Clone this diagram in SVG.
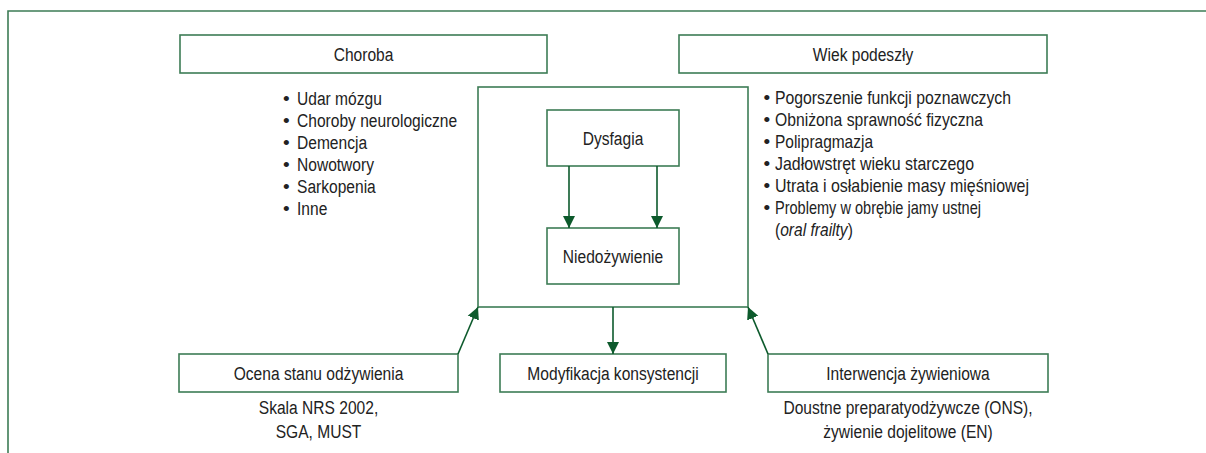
<svg xmlns="http://www.w3.org/2000/svg" width="1206" height="453" viewBox="0 0 1206 453">
<style>
.box{fill:#fff;stroke:#3d7c55;stroke-width:1.6}
.t{font-family:"Liberation Sans",Arial,sans-serif;font-size:19px;fill:#222}
.c{text-anchor:middle}
.con{stroke:#0d5a2c;stroke-width:1.6;fill:none}
</style>
<defs>
<marker id="ah" markerUnits="userSpaceOnUse" markerWidth="12" markerHeight="14" viewBox="0 0 12 14" refX="12" refY="7" orient="auto">
<path d="M0,1 L12,7 L0,13 Z" fill="#0d5a2c"/>
</marker>
</defs>
<g id="frame">
<path d="M8,453 V11 H1206" fill="none" stroke="#3d7c55" stroke-width="1.6"/>
</g>
<g id="choroba">
<rect class="box" x="180" y="35" width="367" height="38"/>
<text class="t c" transform="translate(363.5,61) scale(0.82,1)">Choroba</text>
<g class="t">
<text x="283" y="105">•</text>
<text x="283" y="127">•</text>
<text x="283" y="149">•</text>
<text x="283" y="171">•</text>
<text x="283" y="193">•</text>
<text x="283" y="215">•</text>
</g>
<g transform="translate(297,0) scale(0.82,1)" class="t">
<text x="0" y="105">Udar mózgu</text>
<text x="0" y="127">Choroby neurologiczne</text>
<text x="0" y="149">Demencja</text>
<text x="0" y="171">Nowotwory</text>
<text x="0" y="193">Sarkopenia</text>
<text x="0" y="215">Inne</text>
</g>
</g>
<g id="wiek">
<rect class="box" x="679" y="35" width="368" height="38"/>
<text class="t c" transform="translate(863,61) scale(0.82,1)">Wiek podeszły</text>
<g class="t">
<text x="763.5" y="104">•</text>
<text x="763.5" y="126">•</text>
<text x="763.5" y="148">•</text>
<text x="763.5" y="170">•</text>
<text x="763.5" y="192">•</text>
<text x="763.5" y="214">•</text>
</g>
<g class="t">
<text x="775" y="104" textLength="236" lengthAdjust="spacingAndGlyphs">Pogorszenie funkcji poznawczych</text>
<text x="775" y="126" textLength="208" lengthAdjust="spacingAndGlyphs">Obniżona sprawność fizyczna</text>
<text x="775" y="148" textLength="98" lengthAdjust="spacingAndGlyphs">Polipragmazja</text>
<text x="775" y="170" textLength="199" lengthAdjust="spacingAndGlyphs">Jadłowstręt wieku starczego</text>
<text x="775" y="192" textLength="254" lengthAdjust="spacingAndGlyphs">Utrata i osłabienie masy mięśniowej</text>
<text x="775" y="214" textLength="206" lengthAdjust="spacingAndGlyphs">Problemy w obrębie jamy ustnej</text>
</g>
<text class="t" transform="translate(775,236) scale(0.82,1)">(<tspan font-style="italic">oral frailty</tspan>)</text>
</g>
<g id="central">
<rect class="box" x="478" y="87" width="270" height="220"/>
</g>
<g id="dysfagia">
<rect class="box" x="547" y="110" width="132" height="56"/>
<text class="t c" transform="translate(613,145) scale(0.82,1)">Dysfagia</text>
</g>
<g id="niedozywienie">
<rect class="box" x="547" y="228" width="132" height="56"/>
<text class="t c" transform="translate(613,263) scale(0.82,1)">Niedożywienie</text>
</g>
<g id="ocena">
<rect class="box" x="179" y="354" width="279" height="38"/>
<text class="t c" transform="translate(318.5,380) scale(0.82,1)">Ocena stanu odżywienia</text>
<text class="t c" transform="translate(318.5,414) scale(0.82,1)">Skala NRS 2002,</text>
<text class="t c" transform="translate(318.5,438) scale(0.82,1)">SGA, MUST</text>
</g>
<g id="modyfikacja">
<rect class="box" x="500" y="354" width="226" height="38"/>
<text class="t c" transform="translate(613,380) scale(0.82,1)">Modyfikacja konsystencji</text>
</g>
<g id="interwencja">
<rect class="box" x="768" y="354" width="280" height="38"/>
<text class="t c" transform="translate(908,380) scale(0.82,1)">Interwencja żywieniowa</text>
<text class="t c" transform="translate(908,414) scale(0.82,1)">Doustne preparatyodżywcze (ONS),</text>
<text class="t c" transform="translate(908,438) scale(0.82,1)">żywienie dojelitowe (EN)</text>
</g>
<g id="connectors">
<line class="con" x1="569" y1="166" x2="569" y2="228" marker-end="url(#ah)"/>
<line class="con" x1="657" y1="166" x2="657" y2="228" marker-end="url(#ah)"/>
<line class="con" x1="613" y1="307" x2="613" y2="354" marker-end="url(#ah)"/>
<line class="con" x1="458" y1="354" x2="478" y2="307" marker-end="url(#ah)"/>
<line class="con" x1="768" y1="354" x2="748" y2="307" marker-end="url(#ah)"/>
</g>
</svg>
